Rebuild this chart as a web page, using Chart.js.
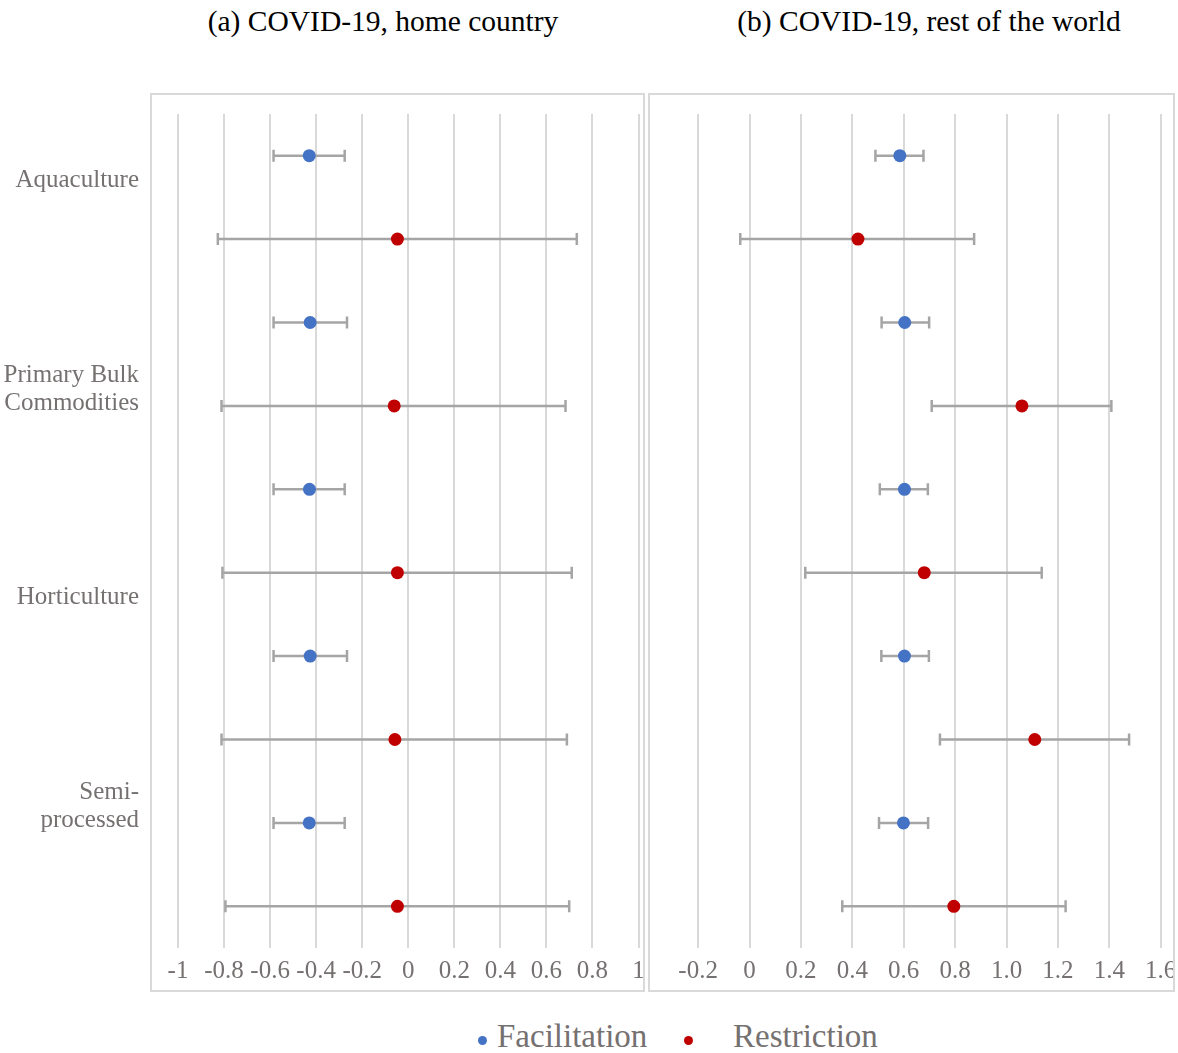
<!DOCTYPE html>
<html>
<head>
<meta charset="utf-8">
<script src="https://cdn.jsdelivr.net/npm/chart.js@4/dist/chart.umd.min.js"></script>
<style>
  body { margin: 0; background: #fff; width: 1178px; height: 1053px; position: relative; overflow: hidden; font-family: "Liberation Serif", "DejaVu Serif", serif; }
  canvas { position: absolute; }
  .box { position: absolute; border: 2px solid #D9D9D9; box-sizing: border-box; pointer-events: none; }
  .title { position: absolute; top: 7px; font-size: 29.5px; line-height: 29.5px; color: #000; white-space: nowrap; transform: translateX(-50%); }
  .leg { position: absolute; top: 1020px; font-size: 33px; line-height: 33px; color: #767171; white-space: nowrap; }
  .dot { position: absolute; width: 9px; height: 9px; border-radius: 50%; top: 1036px; }
</style>
</head>
<body>
<div class="title" style="left:383px">(a) COVID-19, home country</div>
<div class="title" style="left:929px">(b) COVID-19, rest of the world</div>

<canvas id="homeChart" width="645" height="898" style="left:0;top:93px"></canvas>
<canvas id="worldChart" width="527" height="898" style="left:648px;top:93px"></canvas>
<div class="box" style="left:150px;top:93px;width:495px;height:899px"></div>
<div class="box" style="left:648px;top:93px;width:527px;height:899px"></div>

<div class="dot" style="left:478px;background:#4472C4"></div>
<div class="leg" style="left:497px">Facilitation</div>
<div class="dot" style="left:684px;background:#C00000"></div>
<div class="leg" style="left:733px">Restriction</div>

<script>
// Category labels and where they sit on the row axis (rows 1..10, top to bottom)
const categories = ["Aquaculture", ["Primary Bulk", "Commodities"], "Horticulture", ["Semi-", "processed"]];
const categoryPos = [1.3, 3.8, 6.3, 8.8];

// Rows: facilitation on odd rows, restriction on even rows
const facRows = [1, 3, 5, 7, 9];
const resRows = [2, 4, 6, 8, 10];

// (a) home country
const homeFacMean = [-0.430, -0.426, -0.429, -0.426, -0.430];
const homeFacLow  = [-0.585, -0.585, -0.585, -0.585, -0.585];
const homeFacHigh = [-0.276, -0.266, -0.276, -0.266, -0.276];
const homeResMean = [-0.047, -0.061, -0.047, -0.058, -0.047];
const homeResLow  = [-0.827, -0.811, -0.807, -0.811, -0.794];
const homeResHigh = [0.732, 0.683, 0.710, 0.689, 0.699];

// (b) rest of the world
const worldFacMean = [0.585, 0.604, 0.603, 0.603, 0.599];
const worldFacLow  = [0.490, 0.514, 0.507, 0.513, 0.504];
const worldFacHigh = [0.677, 0.699, 0.694, 0.698, 0.695];
const worldResMean = [0.422, 1.060, 0.680, 1.110, 0.795];
const worldResLow  = [-0.036, 0.709, 0.217, 0.741, 0.361];
const worldResHigh = [0.874, 1.408, 1.137, 1.477, 1.230];

// Axis ticks
const homeTicks = [-1, -0.8, -0.6, -0.4, -0.2, 0, 0.2, 0.4, 0.6, 0.8, 1];
const homeTickLabels = ["-1", "-0.8", "-0.6", "-0.4", "-0.2", "0", "0.2", "0.4", "0.6", "0.8", "1"];
const worldTicks = [-0.2, 0, 0.2, 0.4, 0.6, 0.8, 1.0, 1.2, 1.4, 1.6];
const worldTickLabels = ["-0.2", "0", "0.2", "0.4", "0.6", "0.8", "1.0", "1.2", "1.4", "1.6"];

const textGrey = "#767171";
const serif = "'Liberation Serif', 'DejaVu Serif', serif";

function points(rows, mean, low, high) {
  return rows.map((r, i) => ({ x: mean[i], y: r, lo: low[i], hi: high[i] }));
}

// Horizontal error bars, drawn under the markers
const errorBars = {
  id: "errorBars",
  beforeDatasetsDraw(chart) {
    const ctx = chart.ctx;
    const xs = chart.scales.x;
    const ys = chart.scales.y;
    ctx.save();
    ctx.strokeStyle = "#A5A5A5";
    ctx.lineWidth = 2.5;
    chart.data.datasets.forEach(ds => {
      ds.data.forEach(p => {
        const y = ys.getPixelForValue(p.y);
        const x1 = xs.getPixelForValue(p.lo);
        const x2 = xs.getPixelForValue(p.hi);
        ctx.beginPath();
        ctx.moveTo(x1, y); ctx.lineTo(x2, y);
        ctx.moveTo(x1, y - 6); ctx.lineTo(x1, y + 6);
        ctx.moveTo(x2, y - 6); ctx.lineTo(x2, y + 6);
        ctx.stroke();
      });
    });
    ctx.restore();
  }
};

function makeChart(id, fac, res, ticks, tickLabels, showY, padding) {
  return new Chart(document.getElementById(id), {
    type: "scatter",
    data: {
      datasets: [
        { label: "Facilitation", data: fac, backgroundColor: "#4472C4", borderWidth: 0, pointRadius: 6.5, pointHoverRadius: 6.5 },
        { label: "Restriction", data: res, backgroundColor: "#C00000", borderWidth: 0, pointRadius: 6.5, pointHoverRadius: 6.5 },
      ],
    },
    options: {
      responsive: false,
      animation: false,
      layout: { padding: padding },
      plugins: { legend: { display: false }, tooltip: { enabled: false } },
      scales: {
        x: {
          type: "linear",
          min: ticks[0],
          max: ticks[ticks.length - 1],
          afterBuildTicks: function (scale) {
            scale.ticks = ticks.map(v => ({ value: v }));
          },
          afterFit: function (scale) {
            scale.height = 43;
            scale.paddingLeft = 0;
            scale.paddingRight = 0;
          },
          grid: { color: "#D9D9D9", lineWidth: 2, drawTicks: false },
          border: { display: false },
          ticks: {
            padding: 8,
            color: textGrey,
            font: { family: serif, size: 25 },
            maxRotation: 0,
            autoSkip: false,
            callback: function (value, index) {
              return tickLabels[index];
            },
          },
        },
        y: {
          type: "linear",
          display: showY,
          min: 0.5,
          max: 10.5,
          reverse: true,
          afterBuildTicks: function (scale) {
            scale.ticks = categoryPos.map(v => ({ value: v }));
          },
          afterFit: function (scale) {
            scale.width = showY ? 178 : 0;
            scale.paddingTop = 0;
            scale.paddingBottom = 0;
          },
          grid: { display: false, drawTicks: false },
          border: { display: false },
          ticks: {
            padding: 39,
            color: textGrey,
            font: { family: serif, size: 25, lineHeight: 1.12 },
            autoSkip: false,
            callback: function (value, index) {
              return categories[index];
            },
          },
        },
      },
    },
    plugins: [errorBars],
  });
}

makeChart("homeChart",
  points(facRows, homeFacMean, homeFacLow, homeFacHigh),
  points(resRows, homeResMean, homeResLow, homeResHigh),
  homeTicks, homeTickLabels, true,
  { left: 0, right: 4.7, top: 21, bottom: 0 });

makeChart("worldChart",
  points(facRows, worldFacMean, worldFacLow, worldFacHigh),
  points(resRows, worldResMean, worldResLow, worldResHigh),
  worldTicks, worldTickLabels, false,
  { left: 50.1, right: 14.3, top: 21, bottom: 0 });
</script>
</body>
</html>
